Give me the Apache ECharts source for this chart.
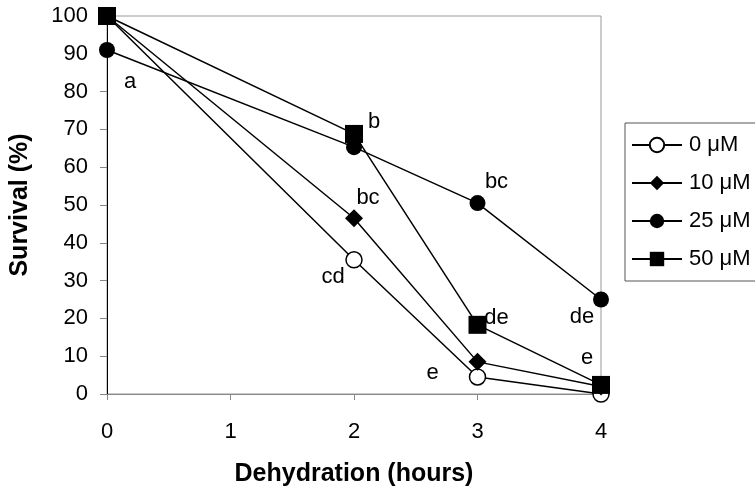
<!DOCTYPE html>
<html>
<head>
<meta charset="utf-8">
<script src="https://cdn.jsdelivr.net/npm/echarts@6/dist/echarts.min.js"></script>
<style>
  html, body { margin: 0; padding: 0; background: #fff; }
  #chart { width: 755px; height: 493px; }
</style>
</head>
<body>
<div id="chart"></div>
<script>
// dehydration time (hours)
const hours = [0, 2, 3, 4];

// survival (%) per treatment
const seriesNames = ['0 μM', '10 μM', '25 μM', '50 μM'];
const survival0 = [100, 35.5, 4.5, 0];
const survival10 = [100, 46.5, 8.5, 2];
const survival25 = [91, 65.3, 50.5, 25];
const survival50 = [100, 68.8, 18.3, 2.4];

// significance letters (empty = none)
const letters0 = ['', 'cd', 'e', ''];
const letters10 = ['', 'bc', '', ''];
const letters25 = ['a', '', 'bc', 'de'];
const letters50 = ['', 'b', 'de', 'e'];

const yTicks = [0, 10, 20, 30, 40, 50, 60, 70, 80, 90, 100];
const xTicks = [0, 1, 2, 3, 4];

// label offsets from the marker centre (px)
const offsets = {
  '0 μM': [null, [-21, 17], [-45, -4], null],
  '10 μM': [null, [14, -20], null, null],
  '25 μM': [[23, 32], null, [19, -21], [-19, 17]],
  '50 μM': [null, [20, -12], [19, -7], [-14, -27]]
};

const FONT = '"Liberation Sans", Arial, sans-serif';

function buildData(name, values, letters) {
  return hours.map((h, i) => {
    const item = { value: [h, values[i]] };
    if (letters[i]) {
      item.label = {
        show: true,
        formatter: letters[i],
        position: 'inside',
        offset: offsets[name][i],
        color: '#000',
        fontSize: 22,
        fontFamily: FONT
      };
    }
    return item;
  });
}

function lineSeries(name, values, letters, symbol, size, fill) {
  return {
    name: name,
    type: 'line',
    data: buildData(name, values, letters),
    symbol: symbol,
    symbolSize: size,
    showAllSymbol: true,
    lineStyle: { color: '#000', width: 1.5 },
    itemStyle: { color: fill, borderColor: '#000', borderWidth: fill === '#fff' ? 1.5 : 0 },
    label: { show: false },
    emphasis: { disabled: true },
    animation: false
  };
}

const chart = echarts.init(document.getElementById('chart'), null, { renderer: 'canvas' });

chart.setOption({
  animation: false,
  backgroundColor: '#fff',
  grid: {
    left: 107,
    right: 154,
    top: 16,
    bottom: 99,
    outerBoundsMode: 'none',
    show: true,
    borderColor: '#999',
    borderWidth: 1,
    backgroundColor: 'transparent'
  },
  legend: {
    data: seriesNames,
    orient: 'vertical',
    left: 625,
    top: 123,
    padding: [10, 10, 10, 6],
    itemWidth: 50,
    itemHeight: 18,
    itemGap: 14,
    borderColor: '#555',
    borderWidth: 1,
    textStyle: { fontSize: 22, lineHeight: 24, fontFamily: FONT, color: '#000', padding: [0, 0, 0, 2] }
  },
  xAxis: {
    type: 'value',
    min: 0,
    max: 4,
    interval: 1,
    name: 'Dehydration (hours)',
    nameLocation: 'middle',
    nameGap: 68,
    nameTextStyle: { fontSize: 25, fontWeight: 'bold', fontFamily: FONT, color: '#000' },
    axisLine: { show: true, lineStyle: { color: '#888', width: 1 } },
    axisTick: { show: true, length: 6, lineStyle: { color: '#888' } },
    axisLabel: {
      fontSize: 22, fontFamily: FONT, color: '#000', margin: 27,
      formatter: (v) => xTicks.includes(v) ? String(v) : ''
    },
    splitLine: { show: false }
  },
  yAxis: {
    type: 'value',
    min: 0,
    max: 100,
    interval: 10,
    name: 'Survival (%)',
    nameLocation: 'middle',
    nameGap: 74,
    nameTextStyle: { fontSize: 25, fontWeight: 'bold', fontFamily: FONT, color: '#000' },
    axisLine: { show: true, lineStyle: { color: '#000', width: 1 } },
    axisTick: { show: true, length: 7, inside: false, lineStyle: { color: '#888' } },
    axisLabel: {
      fontSize: 22, fontFamily: FONT, color: '#000', margin: 19,
      formatter: (v) => yTicks.includes(v) ? String(v) : ''
    },
    splitLine: { show: false }
  },
  series: [
    lineSeries(seriesNames[0], survival0, letters0, 'circle', 16, '#fff'),
    lineSeries(seriesNames[1], survival10, letters10, 'diamond', 18, '#000'),
    lineSeries(seriesNames[2], survival25, letters25, 'circle', 16, '#000'),
    lineSeries(seriesNames[3], survival50, letters50, 'rect', 18, '#000')
  ]
});
</script>
</body>
</html>
